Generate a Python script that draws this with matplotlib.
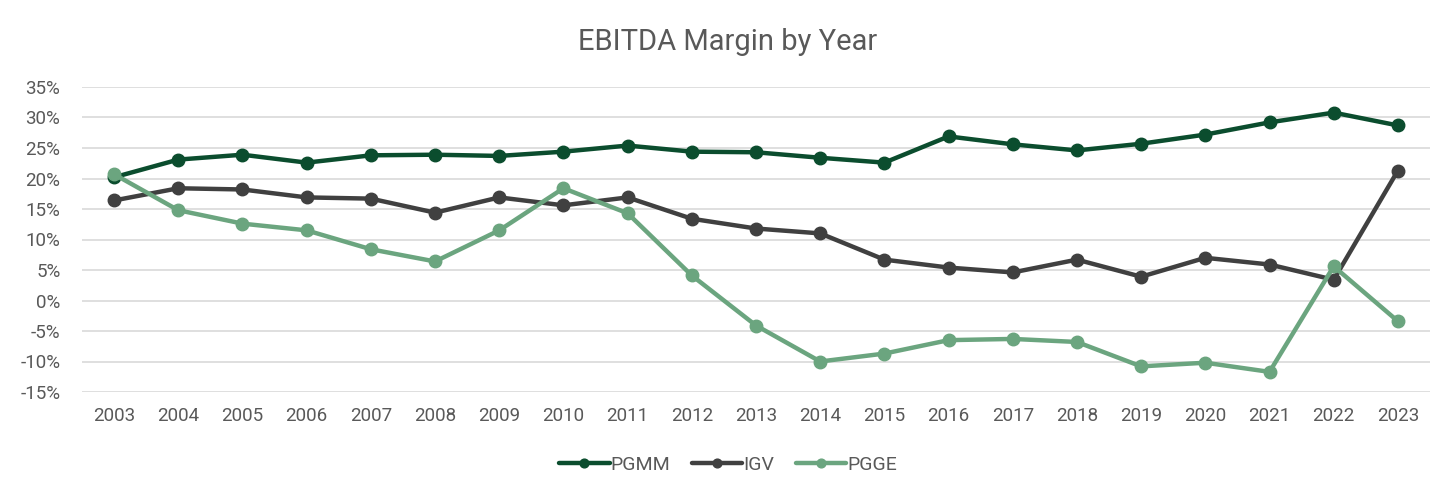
import matplotlib
matplotlib.use("Agg")
import matplotlib.pyplot as plt
from matplotlib.ticker import FuncFormatter

years = [str(y) for y in range(2003, 2024)]

# EBITDA margin (%)
pgmm = [20.2, 23.1, 23.9, 22.6, 23.8, 23.9, 23.7, 24.4, 25.4, 24.4, 24.3,
        23.4, 22.6, 26.9, 25.6, 24.6, 25.7, 27.2, 29.2, 30.8, 28.7]
igv = [16.4, 18.4, 18.2, 16.9, 16.7, 14.4, 16.9, 15.6, 16.9, 13.4, 11.8,
       11.0, 6.7, 5.4, 4.6, 6.7, 3.9, 7.0, 5.9, 3.4, 21.3]
pgge = [20.7, 14.8, 12.6, 11.5, 8.4, 6.4, 11.5, 18.4, 14.3, 4.1, -4.1,
        -10.0, -8.7, -6.5, -6.3, -6.8, -10.8, -10.2, -11.7, 5.6, -3.4]

plt.rcParams['font.family'] = ['Roboto', 'DejaVu Sans']
text_col = '#595959'

fig = plt.figure(figsize=(14.56, 5.01), dpi=100)
ax = fig.add_axes([82 / 1456, 1 - 392 / 501, (1430 - 82) / 1456, (392 - 87) / 501])

x = list(range(len(years)))
series = [('PGMM', pgmm, '#0B4D2E'), ('IGV', igv, '#404040'), ('PGGE', pgge, '#6BA57F')]
for name, vals, col in series:
    ax.plot(x, vals, color=col, lw=3.2, marker='o', ms=9, label=name,
            solid_capstyle='round', zorder=3)

ax.set_xlim(-0.5, len(years) - 0.5)
ax.set_ylim(-15, 35)
ax.set_yticks(range(-15, 36, 5))
ax.yaxis.set_major_formatter(FuncFormatter(lambda v, p: f'{v:.0f}%'))
ax.set_xticks(x)
ax.set_xticklabels(years)
ax.tick_params(axis='both', length=0, labelsize=13.5, colors=text_col)
ax.tick_params(axis='x', pad=11)
ax.tick_params(axis='y', pad=15.5)
ax.grid(axis='y', color='#D9D9D9', lw=1.2)
ax.set_axisbelow(True)
for s in ax.spines.values():
    s.set_visible(False)

fig.suptitle('EBITDA Margin by Year', y=1 - 42 / 501, va='center',
             fontsize=21, color=text_col)
fig.legend(loc='center', bbox_to_anchor=(0.5, 1 - 465 / 501), ncol=3,
           frameon=False, fontsize=14, labelcolor=text_col, markerscale=0.7,
           handlelength=2.6, columnspacing=1.1, handletextpad=0.05)

fig.savefig('out.png', dpi=100)
